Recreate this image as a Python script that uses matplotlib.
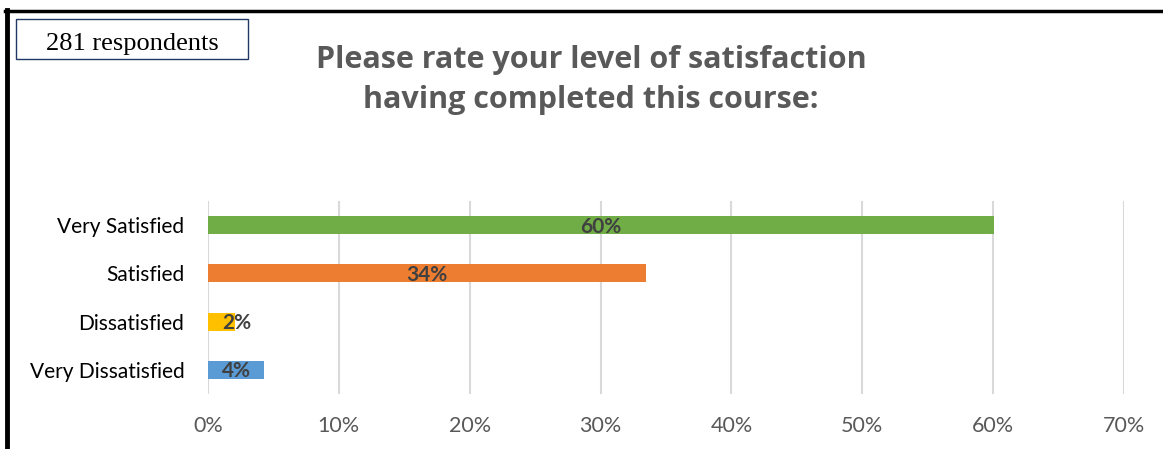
import matplotlib
matplotlib.use('Agg')
from matplotlib import pyplot as plt
from matplotlib.patches import Rectangle
from matplotlib.lines import Line2D

categories = ['Very Dissatisfied', 'Dissatisfied', 'Satisfied', 'Very Satisfied']
percents = [4.3, 2.1, 33.5, 60.1]
bar_labels = ['4%', '2%', '34%', '60%']
colors = ['#5b9bd5', '#ffc000', '#ed7d31', '#70ad47']
xticks = [0, 10, 20, 30, 40, 50, 60, 70]
title = 'Please rate your level of satisfaction\nhaving completed this course:'
respondents = '281 respondents'

plt.rcParams['font.family'] = ['Lato', 'DejaVu Sans']

fig = plt.figure(figsize=(11.63, 4.49), dpi=100)
W, H = 1163, 449

ax = fig.add_axes([208 / W, 1 - 394 / H, 916 / W, 193 / H])
ypos = list(range(len(categories)))
ax.barh(ypos, percents, height=0.37, color=colors, zorder=3)
for y, v, lab in zip(ypos, percents, bar_labels):
    ax.text(max(v / 2, 2.2), y - 0.03, lab, ha='center', va='center',
            fontsize=15, fontweight='bold', color='#404040', zorder=4)

ax.set_xlim(0, 70)
ax.set_ylim(-0.5, 3.5)
ax.set_xticks(xticks)
ax.set_xticklabels(['%d%%' % t for t in xticks], color='#595959', fontsize=15.5)
ax.set_yticks(ypos)
ax.set_yticklabels(categories, color='#000000', fontsize=15)
ax.tick_params(axis='both', length=0)
ax.tick_params(axis='y', pad=17)
ax.tick_params(axis='x', pad=16)
ax.grid(axis='x', color='#d9d9d9', linewidth=1.5, zorder=0)
for s in ax.spines.values():
    s.set_visible(False)

fig.text(591 / W, 1 - 80 / H, title, ha='center', va='center', fontsize=22,
         fontweight='bold', color='#595959', linespacing=1.45,
         family=['Open Sans', 'DejaVu Sans'])

# respondents box
fig.patches.append(Rectangle((16 / W, 1 - 59 / H), 232 / W, 40 / H,
                             transform=fig.transFigure, fill=False,
                             edgecolor='#1f3864', linewidth=1))
fig.text(132 / W, 1 - 44 / H, respondents, ha='center', va='center',
         fontsize=19, family='Liberation Serif', color='#000000')

# outer frame (top and left edges)
fig.lines.append(Line2D([5 / W, 1], [1 - 11 / H, 1 - 11 / H],
                        transform=fig.transFigure, color='black', linewidth=2.5))
fig.lines.append(Line2D([7 / W, 7 / W], [0, 1 - 10 / H],
                        transform=fig.transFigure, color='black', linewidth=3.5))

fig.savefig('out.png', dpi=100)
